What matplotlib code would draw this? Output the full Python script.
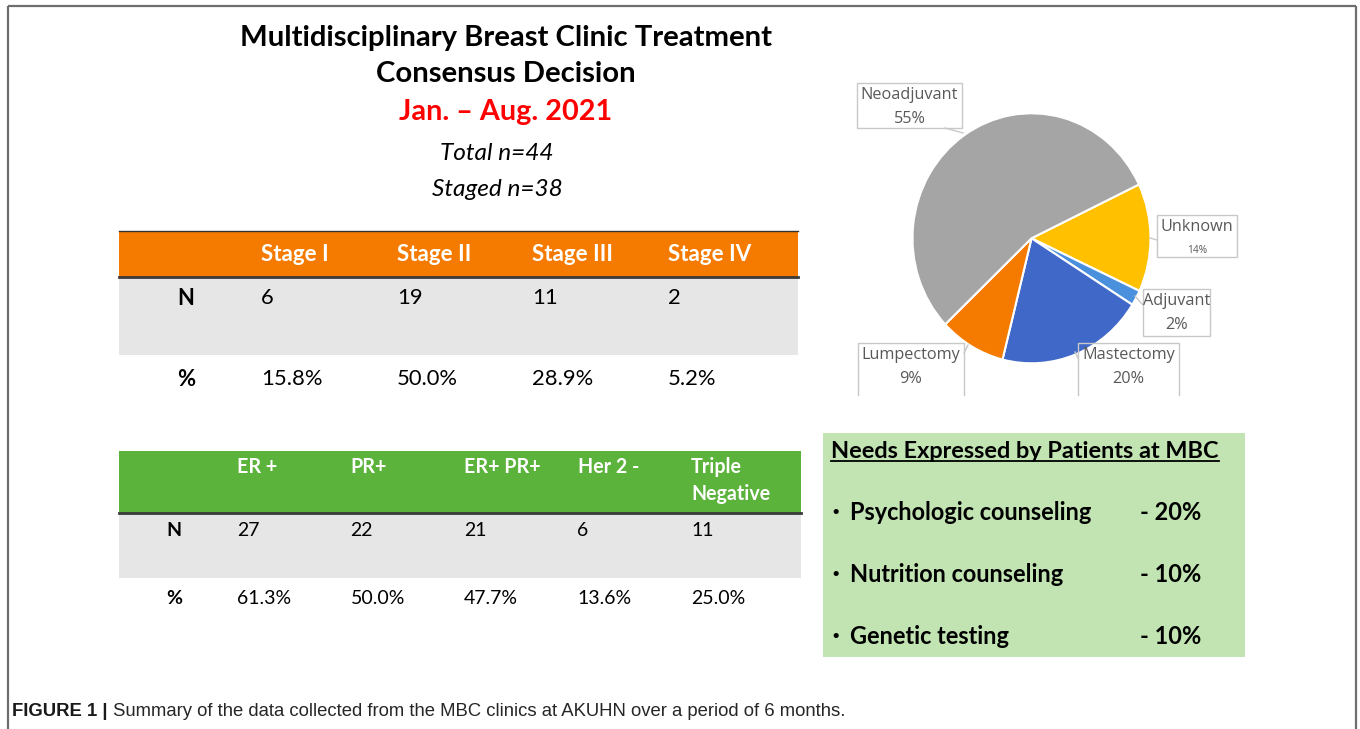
import matplotlib
matplotlib.use("Agg")
import matplotlib.pyplot as plt
from matplotlib.patches import Rectangle
from matplotlib import font_manager

# ---------------- data ----------------
title_lines = ["Multidisciplinary Breast Clinic Treatment", "Consensus Decision"]
period = "Jan. \u2013 Aug. 2021"
total_n = 44
staged_n = 38

stage_labels = ["Stage I", "Stage II", "Stage III", "Stage IV"]
stage_n = [6, 19, 11, 2]
stage_pct = [15.8, 50.0, 28.9, 5.2]

receptor_labels = ["ER +", "PR+", "ER+ PR+", "Her 2 -", "Triple\nNegative"]
receptor_n = [27, 22, 21, 6, 11]
receptor_pct = [61.3, 50.0, 47.7, 13.6, 25.0]

pie_labels = ["Unknown", "Adjuvant", "Mastectomy", "Lumpectomy", "Neoadjuvant"]
pie_values = [14, 2, 20, 9, 55]
pie_colors = ["#FFC000", "#4A90DC", "#3F68C8", "#F57A00", "#A5A5A5"]

needs_title = "Needs Expressed by Patients at MBC"
needs_items = ["Psychologic counseling", "Nutrition counseling", "Genetic testing"]
needs_pct = [20, 10, 10]

caption_bold = "FIGURE 1 |"
caption_text = " Summary of the data collected from the MBC clinics at AKUHN over a period of 6 months."

# ---------------- setup ----------------
W, H = 1360, 729
fig = plt.figure(figsize=(W / 100, H / 100), dpi=100)
renderer = fig.canvas.get_renderer()

avail = {f.name for f in font_manager.fontManager.ttflist}
MAIN = "Lato" if "Lato" in avail else "DejaVu Sans"
CAP = "Liberation Sans Narrow" if "Liberation Sans Narrow" in avail else "Liberation Sans"


def fit_size(s, width, **kw):
    t = fig.text(0, 0, s, fontsize=20, **kw)
    bb = t.get_window_extent(renderer)
    t.remove()
    return 20 * width / bb.width


# ---------------- pie ----------------
pc_x, pc_y, prx, pry = 1031.5, 238.3, 119, 125
pax = fig.add_axes([(pc_x - prx) / W, 1 - (pc_y + pry) / H, 2 * prx / W, 2 * pry / H])
wedges, _ = pax.pie(pie_values, colors=pie_colors, startangle=25.5, counterclock=False,
                    radius=1, wedgeprops=dict(edgecolor="white", linewidth=1.5))
pax.set_xlim(-1, 1)
pax.set_ylim(-1, 1)
pax.set_aspect("auto")
pax.axis("off")

# ---------------- overlay ----------------
ov = fig.add_axes([0, 0, 1, 1])
ov.set_xlim(0, W)
ov.set_ylim(H, 0)
ov.axis("off")

# frame
fc = "#6E6E6E"
ov.plot([8, 8], [6, H], color=fc, lw=1.6, solid_capstyle="butt")
ov.plot([8, 1356], [6, 6], color=fc, lw=1.6, solid_capstyle="butt")
ov.plot([1356, 1356], [6, H], color=fc, lw=1.6, solid_capstyle="butt")

# titles
ts = fit_size(title_lines[0], 532, family=MAIN, weight="bold")
ov.text(506, 38, title_lines[0], fontsize=ts, family=MAIN, weight="bold", ha="center", va="center", color="black")
ov.text(506, 74, title_lines[1], fontsize=ts, family=MAIN, weight="bold", ha="center", va="center", color="black")
rs = fit_size(period, 212, family=MAIN, weight="bold")
ov.text(506, 112, period, fontsize=rs, family=MAIN, weight="bold", ha="center", va="center", color="#FF0000")
isz = fit_size(f"Staged n={staged_n}", 131, family=MAIN, style="italic")
ov.text(497, 153, f"Total n={total_n}", fontsize=isz, family=MAIN, style="italic", ha="center", va="center", color="black")
ov.text(497, 189, f"Staged n={staged_n}", fontsize=isz, family=MAIN, style="italic", ha="center", va="center", color="black")

# ---------------- stage table (orange) ----------------
GRAY = "#E6E6E6"
t1_x0, t1_x1 = 119, 798
t1_head = (231, 277)
t1_grey = (277, 355)
t1_pct_y = 379
t1_lab_x = 186
t1_col0, t1_step = 261, 135.7

ov.add_patch(Rectangle((t1_x0, t1_head[0]), t1_x1 - t1_x0, t1_head[1] - t1_head[0], color="#F57B00", lw=0))
ov.add_patch(Rectangle((t1_x0, t1_grey[0]), t1_x1 - t1_x0, t1_grey[1] - t1_grey[0], color=GRAY, lw=0))
ov.plot([t1_x0, t1_x1], [t1_head[0], t1_head[0]], color="#333333", lw=1.0)
ov.plot([t1_x0, t1_x1], [t1_head[1], t1_head[1]], color="#3A3A3A", lw=2.0)

hs1 = fit_size("Stage III", 81, family=MAIN, weight="bold")
vs1 = fit_size("15.8%", 61, family=MAIN)
for i, lab in enumerate(stage_labels):
    x = t1_col0 + i * t1_step
    ov.text(x, (t1_head[0] + t1_head[1]) / 2, lab, fontsize=hs1, family=MAIN, weight="bold", color="white", va="center", ha="left")
    ov.text(x, 298, str(stage_n[i]), fontsize=vs1, family=MAIN, color="black", va="center", ha="left")
    ov.text(x, t1_pct_y, f"{stage_pct[i]:.1f}%", fontsize=vs1, family=MAIN, color="black", va="center", ha="left")
ov.text(t1_lab_x, 298, "N", fontsize=vs1, family=MAIN, weight="bold", ha="center", va="center")
ov.text(t1_lab_x, t1_pct_y, "%", fontsize=vs1, family=MAIN, weight="bold", ha="center", va="center")

# ---------------- receptor table (green) ----------------
t2_x0, t2_x1 = 119, 801
t2_head = (451, 513)
t2_grey = (513, 578)
t2_pct_y = 598
t2_lab_x = 174
t2_col0, t2_step = 237, 113.5

ov.add_patch(Rectangle((t2_x0, t2_head[0]), t2_x1 - t2_x0, t2_head[1] - t2_head[0], color="#5CB33B", lw=0))
ov.add_patch(Rectangle((t2_x0, t2_grey[0]), t2_x1 - t2_x0, t2_grey[1] - t2_grey[0], color=GRAY, lw=0))
ov.plot([t2_x0, t2_x1], [t2_head[1], t2_head[1]], color="#3A3A3A", lw=2.0)

hs2 = fit_size("Negative", 79, family=MAIN, weight="bold")
vs2 = fit_size("61.3%", 54, family=MAIN)
for i, lab in enumerate(receptor_labels):
    x = t2_col0 + i * t2_step
    ov.text(x, 457, lab, fontsize=hs2, family=MAIN, weight="bold", color="white", va="top", ha="left", linespacing=1.45)
    ov.text(x, 530, str(receptor_n[i]), fontsize=vs2, family=MAIN, color="black", va="center", ha="left")
    ov.text(x, t2_pct_y, f"{receptor_pct[i]:.1f}%", fontsize=vs2, family=MAIN, color="black", va="center", ha="left")
ov.text(t2_lab_x, 530, "N", fontsize=vs2, family=MAIN, weight="bold", ha="center", va="center")
ov.text(t2_lab_x, t2_pct_y, "%", fontsize=vs2, family=MAIN, weight="bold", ha="center", va="center")

# ---------------- pie labels ----------------
LBL = "#595959"
BOX = "#C8C8C8"
# (left, top, right, bottom, open_bottom, leader(x0,y0,x1,y1), small_pct)
label_layout = {
    "Neoadjuvant": (857, 83, 962, 128, False, (945, 128, 963, 133), False),
    "Unknown": (1157, 215, 1237, 257, False, (1157, 240, 1150, 238), True),
    "Adjuvant": (1143, 289, 1210, 336, False, (1143, 305, 1135, 296), False),
    "Mastectomy": (1078, 343, 1179, 395, True, (1078, 358, 1075, 352), False),
    "Lumpectomy": (858, 343, 964, 395, True, (964, 353, 968, 345), False),
}
ls = fit_size("Neoadjuvant", 97, family="Open Sans")
for lab, val in zip(pie_labels, pie_values):
    l, t, r, b, open_b, lead, small = label_layout[lab]
    if open_b:
        ov.plot([l, l, r, r], [b, t, t, b], color=BOX, lw=1.0)
    else:
        ov.add_patch(Rectangle((l, t), r - l, b - t, fill=False, edgecolor=BOX, lw=1.0))
    ov.plot([lead[0], lead[2]], [lead[1], lead[3]], color=BOX, lw=1.0)
    cx = (l + r) / 2
    ov.text(cx, t + 12, lab, fontsize=ls, family="Open Sans", color=LBL, ha="center", va="center")
    ov.text(cx, t + (35 if small else 36), f"{val}%", fontsize=ls * (0.62 if small else 1.0),
            family="Open Sans", color=LBL, ha="center", va="center")

# ---------------- needs box ----------------
ov.add_patch(Rectangle((823, 433), 1245 - 823, 657 - 433, color="#C2E4B3", lw=0))
nts = fit_size(needs_title, 388, family=MAIN, weight="bold")
ov.text(831, 451, needs_title, fontsize=nts, family=MAIN, weight="bold", ha="left", va="center", color="black")
ov.plot([831, 1219], [461, 461], color="black", lw=1.3)
nis = fit_size(needs_items[0], 242, family=MAIN, weight="bold")
for i, (item, p) in enumerate(zip(needs_items, needs_pct)):
    y = 513 + i * 62
    ov.text(836, y, "\u2022", fontsize=nis * 0.75, family="DejaVu Sans", ha="center", va="center", color="black")
    ov.text(850, y, item, fontsize=nis, family=MAIN, weight="bold", ha="left", va="center", color="black")
    ov.text(1140, y, f"- {p}%", fontsize=nis, family=MAIN, weight="bold", ha="left", va="center", color="black")

# ---------------- caption ----------------
cs = fit_size(caption_bold + caption_text, 833, family=CAP)
cb = ov.text(12, 712, caption_bold, fontsize=cs, family=CAP, weight="bold", ha="left", va="center", color="#1A1A1A")
bb = cb.get_window_extent(renderer)
ov.text(bb.x1, 712, caption_text, fontsize=cs, family=CAP, ha="left", va="center", color="#262626")

fig.savefig("out.png", dpi=100)
